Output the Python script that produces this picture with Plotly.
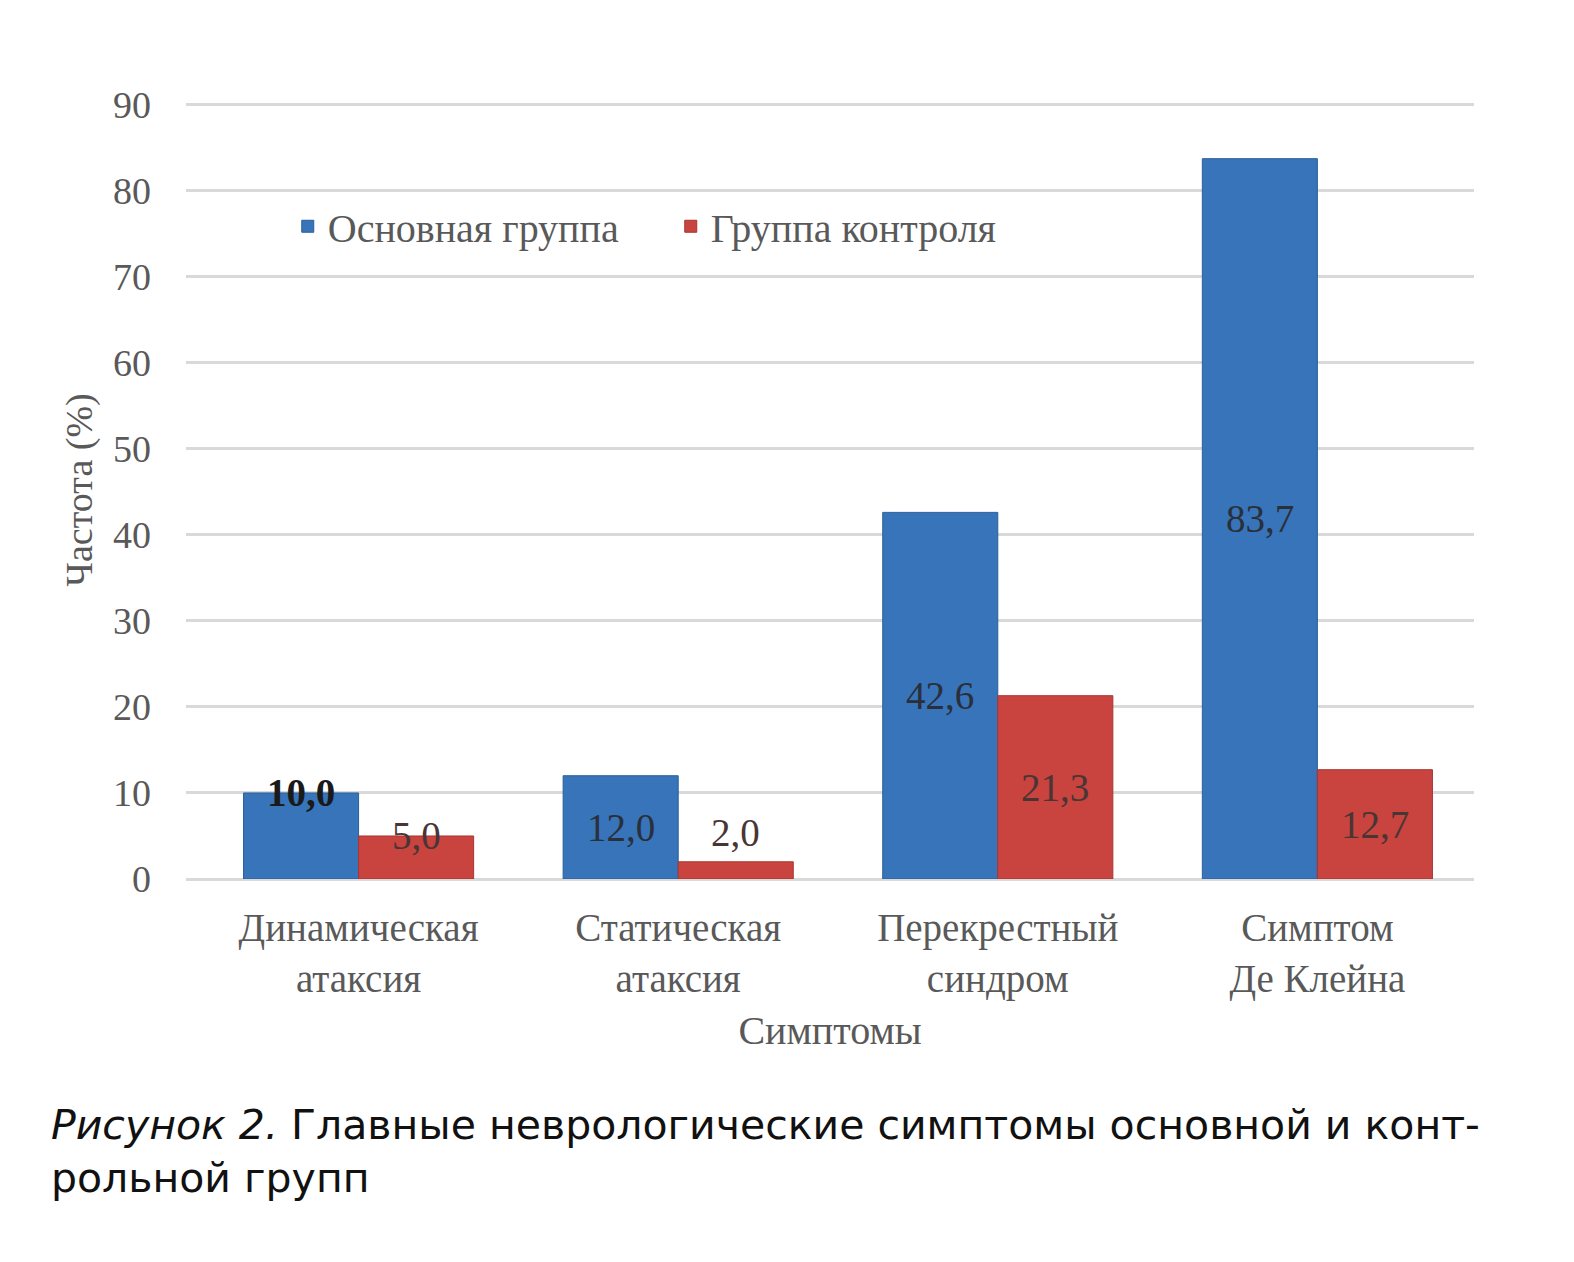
import plotly.graph_objects as go

categories = ["Динамическая<br>атаксия", "Статическая<br>атаксия",
              "Перекрестный<br>синдром", "Симптом<br>Де Клейна"]
main_group = [10.0, 12.0, 42.6, 83.7]
control_group = [5.0, 2.0, 21.3, 12.7]
series_names = ["Основная группа", "Группа контроля"]
y_ticks = [0, 10, 20, 30, 40, 50, 60, 70, 80, 90]

BLUE = "#3774b9"
RED = "#c9433f"
SERIF = "Liberation Serif"
GRAY = "#595959"

fig = go.Figure()
fig.add_trace(go.Bar(x=categories, y=main_group, name=series_names[0],
                     marker=dict(color=BLUE, line=dict(color="#2c5f99", width=1)),
                     offsetgroup="a"))
fig.add_trace(go.Bar(x=categories, y=control_group, name=series_names[1],
                     marker=dict(color=RED, line=dict(color="#a83532", width=1)),
                     offsetgroup="b"))


def label_y(v):
    # big bars: label near the middle; small bars: at/above the top
    if v >= 11:
        return v / 2
    return v if v >= 5 else v + 3.4


def fmt(v):
    return f"{v:.1f}".replace(".", ",")


for trace_i, vals in enumerate((main_group, control_group)):
    shift = -0.18 if trace_i == 0 else 0.18
    for i, v in enumerate(vals):
        fig.add_annotation(
            x=i + shift, y=label_y(v), xref="x", yref="y", showarrow=False,
            text=f"<b>{fmt(v)}</b>" if v == 10.0 else fmt(v),
            font=dict(family=SERIF, size=39,
                      color="#1a1a1a" if v == 10.0 else ("#2a2f3a" if trace_i == 0 else "#4a3535")),
        )

# caption under the chart
fig.add_annotation(
    x=-0.106, y=-0.35, xref="paper", yref="paper", xanchor="left", yanchor="middle",
    align="left", showarrow=False,
    text="<i>Рисунок 2.</i> Главные неврологические симптомы основной и конт-<br>рольной групп",
    font=dict(family="DejaVu Sans", size=41, color="#111"),
)

fig.update_xaxes(
    range=[-0.54, 3.49], showgrid=False, showline=False, ticks="",
    ticklabelstandoff=22,
    tickfont=dict(family=SERIF, size=39, color=GRAY),
    title=dict(text="Симптомы", font=dict(family=SERIF, size=40, color=GRAY), standoff=16),
)
fig.update_yaxes(
    range=[0, 90.4], tickvals=y_ticks, showgrid=True, gridcolor="#d9d9d9", gridwidth=3,
    zeroline=True, zerolinecolor="#d9d9d9", zerolinewidth=3, showline=False,
    ticklabelstandoff=34,
    tickfont=dict(family=SERIF, size=38, color=GRAY),
    title=dict(text="Частота (%)", font=dict(family=SERIF, size=38, color=GRAY), standoff=8),
)

fig.update_layout(
    width=1574, height=1262,
    margin=dict(l=178, r=108, t=93, b=391),
    barmode="group", bargap=0.28, bargroupgap=0,
    paper_bgcolor="white", plot_bgcolor="white",
    legend=dict(orientation="h", x=0.079, y=0.839, xanchor="left", yanchor="middle",
                font=dict(family=SERIF, size=40, color=GRAY), itemwidth=30,
                entrywidth=338, bgcolor="rgba(0,0,0,0)"),
    showlegend=True,
)

fig.write_html("out.html")
